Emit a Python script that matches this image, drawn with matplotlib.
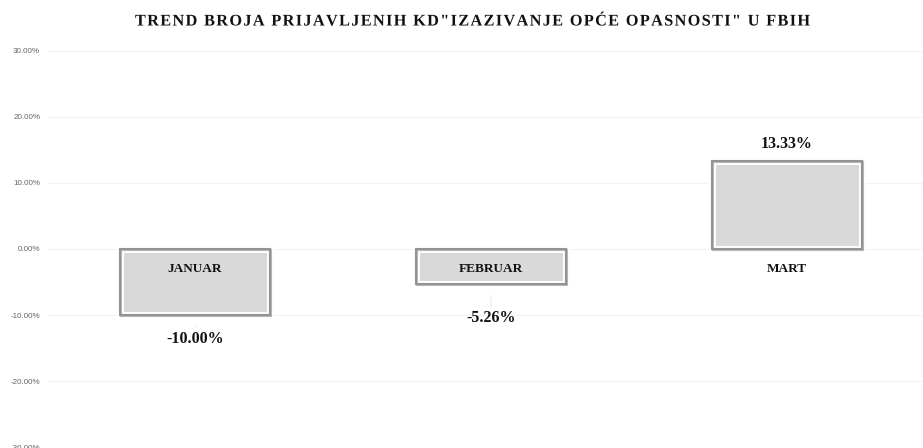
import matplotlib
matplotlib.use("Agg")
import matplotlib.pyplot as plt
import matplotlib.patheffects as pe
from matplotlib.ticker import FuncFormatter

categories = ["JANUAR", "FEBRUAR", "MART"]
values = [-10.00, -5.26, 13.33]
value_labels = ["-10.00%", "-5.26%", "13.33%"]
yticks = [-30, -20, -10, 0, 10, 20, 30]
title = 'TREND BROJA PRIJAVLJENIH KD"IZAZIVANJE OPĆE OPASNOSTI" U FBIH'
label_offsets_pt = [-17, -25, 12]

fig = plt.figure(figsize=(9.23, 4.48), dpi=100)
ax = fig.add_axes([0.051, 0.0022, 0.962, 0.884])
x = list(range(len(categories)))

ax.set_xlim(-0.5, 2.5)
ax.set_ylim(-30, 30)
ax.set_yticks(yticks)
ax.yaxis.set_major_formatter(FuncFormatter(lambda v, p: f"{v:.2f}%"))
ax.tick_params(axis="y", length=0, pad=5, labelsize=5.8, labelcolor="#666666")
for t in ax.get_yticklabels():
    t.set_family("Liberation Sans")
ax.set_xticks([])
ax.grid(axis="y", color="#f2f2f2", linewidth=0.8)
ax.set_axisbelow(True)
for s in ax.spines.values():
    s.set_visible(False)

# bars: white inner border + gray outer edge
ax.bar(x, values, width=0.505, color="#d9d9d9", edgecolor="white", linewidth=5.0, zorder=2)
ax.bar(x, values, width=0.505, color="none", edgecolor="#939393", linewidth=1.5, zorder=3,
       path_effects=[pe.SimpleLineShadow(offset=(0.6, -0.6), shadow_color="#a6a6a6", alpha=0.8), pe.Normal()])

bold = dict(family="Liberation Serif", fontweight="bold", color="#111111")
for xi, v, lab, off in zip(x, values, value_labels, label_offsets_pt):
    ax.annotate(lab, xy=(xi, v), xytext=(0, off), textcoords="offset points",
                ha="center", va="center", fontsize=11.5, zorder=4,
                arrowprops=dict(arrowstyle="-", color="#e6e6e6", lw=0.6, shrinkA=0, shrinkB=8) if v < 0 else None,
                **bold)

# category labels just below zero
for xi, c in zip(x, categories):
    ax.annotate(c, xy=(xi, 0), xytext=(0, -14.5), textcoords="offset points",
                ha="center", va="center", fontsize=9.5, zorder=4, **bold)

fig.text(0.512, 0.952, "\u200a".join(title), ha="center", va="center", fontsize=11.7,
         fontweight="bold", family="Liberation Serif", color="#111111",
         path_effects=[pe.SimpleLineShadow(offset=(1, -1), shadow_color="#888888", alpha=0.5), pe.Normal()])

fig.savefig("out.png", dpi=100)
